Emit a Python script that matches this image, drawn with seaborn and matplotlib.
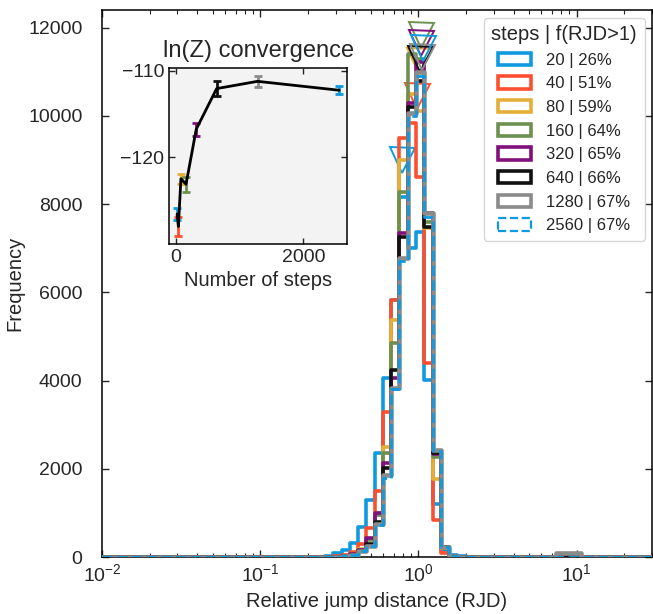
import numpy as np
import pandas as pd
import matplotlib
matplotlib.use("Agg")
import matplotlib.pyplot as plt
from matplotlib.patches import Patch
import seaborn as sns

# ---------------- data ----------------
steps = [20, 40, 80, 160, 320, 640, 1280, 2560]
frac_above = [26, 51, 59, 64, 65, 66, 67, 67]
colors = ["#0f9ae0", "#fc4f30", "#e5ae38", "#6d904f", "#810f7c", "#111111", "#8b8b8b", "#0f9ae0"]
styles = ["-", "-", "-", "-", "-", "-", "-", "--"]

# shared log-spaced bins (log10 RJD from -2 to 1.5)
bin_lo, bin_hi, n_bins = -2.0, 1.5, 67
first_bin = 27  # index of first listed count

counts_20 = [30, 90, 158, 317, 686, 1291, 2355, 4054, 5820, 8160, 7000, 7370, 4010, 1200, 158, 40, 15]
counts_40 = [10, 20, 50, 120, 300, 650, 1500, 3291, 5820, 9500, 9830, 8607, 4394, 850, 90, 20, 5]
counts_80 = [5, 10, 25, 60, 180, 400, 1000, 2498, 5368, 9000, 10500, 10100, 7450, 1760, 200, 20, 5]
counts_160 = [5, 10, 25, 60, 170, 380, 950, 2350, 4847, 8270, 11400, 11300, 7600, 2265, 220, 20, 5]
counts_320 = [5, 10, 25, 60, 160, 420, 1000, 2122, 4050, 7350, 10300, 11210, 7800, 2330, 220, 20, 5]
counts_640 = [5, 10, 20, 50, 140, 300, 800, 2016, 4235, 7250, 10200, 10800, 7470, 2355, 220, 20, 5]
counts_1280 = [5, 10, 20, 50, 130, 250, 750, 1857, 3828, 6770, 10060, 11000, 7790, 2424, 226, 30, 5]
counts_2560 = [5, 10, 20, 50, 130, 250, 720, 1800, 3800, 6700, 10000, 10900, 7700, 2400, 226, 30, 5]
all_counts = [counts_20, counts_40, counts_80, counts_160, counts_320, counts_640, counts_1280, counts_2560]

# small outlier bump near RJD ~ 10 (1280 steps)
bump_bins = [55, 56, 57]
bump_1280 = [90, 100, 80]

# triangle markers: median RJD of each run and marker height
medians = [0.79, 0.987, 1.016, 1.046, 1.046, 1.02, 1.05, 1.075]
marker_y = [8990, 10460, 11240, 11840, 11660, 11300, 11325, 11530]

# ln(Z) convergence inset
lnz_mean = [-126.56, -128.0, -122.47, -123.12, -116.75, -112.06, -111.22, -112.25]
lnz_err = [0.67, 1.1, 0.57, 0.86, 0.76, 0.9, 0.65, 0.44]

# ---------------- style ----------------
sns.set_style("ticks")
plt.rcParams["font.family"] = ["Liberation Sans", "DejaVu Sans"]
plt.rcParams["mathtext.fontset"] = "custom"
plt.rcParams["mathtext.rm"] = "Liberation Sans"
plt.rcParams["mathtext.it"] = "Liberation Sans:italic"
plt.rcParams["mathtext.bf"] = "Liberation Sans:bold"
plt.rcParams["axes.linewidth"] = 1.1
plt.rcParams["axes.edgecolor"] = "black"
FS = 14.5
TFS = 14

fig = plt.figure(figsize=(6.53, 6.14), dpi=100)
ax = fig.add_axes([102 / 653, 1 - 557 / 614, 550 / 653, 547 / 614])

edges = np.logspace(bin_lo, bin_hi, n_bins + 1)
centers = np.sqrt(edges[:-1] * edges[1:])

for i, (c, col, ls) in enumerate(zip(all_counts, colors, styles)):
    w = np.zeros(n_bins)
    w[first_bin:first_bin + len(c)] = c
    if steps[i] == 1280:
        w[bump_bins] = bump_1280
    df = pd.DataFrame({"rjd": centers, "n": w})
    lw = 2.0 if ls == "--" else (3.3 if steps[i] == 1280 else 2.6)
    sns.histplot(data=df, x="rjd", weights="n", bins=edges.tolist(), element="step", fill=False,
                 color=col, linewidth=lw, linestyle=ls, ax=ax, zorder=2 + i)

for i, col in enumerate(colors):
    ax.plot([medians[i]], [marker_y[i]], marker="v", ms=18, mfc="none",
            mec=col, mew=1.4, ls="none", zorder=2 + i)

ax.set_xscale("log")
ax.set_xlim(0.01, 30)
ax.set_ylim(0, 12400)
ax.set_yticks(np.arange(0, 12001, 2000))
ax.set_xlabel("Relative jump distance (RJD)", fontsize=FS, labelpad=5)
ax.set_ylabel("Frequency", fontsize=FS, labelpad=3)
ax.tick_params(which="both", direction="in", top=True, right=True, labelsize=TFS)
ax.tick_params(which="major", length=5, width=1)
ax.tick_params(which="minor", length=2.8, width=0.8)
ax.tick_params(axis="y", which="major", pad=14)
ax.tick_params(axis="x", which="major", pad=4.5)

handles = [Patch(facecolor="white", edgecolor=col, linewidth=2.6 if ls == "-" else 1.6, linestyle=ls)
           for col, ls in zip(colors, styles)]
labels = [f"{s} | {f}%" for s, f in zip(steps, frac_above)]
leg = ax.legend(handles, labels, title="steps | f(RJD>1)", loc="upper right",
                fontsize=12, title_fontsize=FS, frameon=True, fancybox=True,
                handlelength=2.0, handleheight=0.75, borderpad=0.45, labelspacing=0.52,
                handletextpad=0.9, bbox_to_anchor=(1.0, 1.0), borderaxespad=0.45)
leg.get_frame().set_edgecolor("#cccccc")
leg.get_frame().set_linewidth(1.0)
leg.set_zorder(20)

# ---------------- inset ----------------
axins = fig.add_axes([169 / 653, 1 - 244 / 614, 178.3 / 653, 176.3 / 614])
axins.set_facecolor("#f3f3f3")
sns.lineplot(x=steps, y=lnz_mean, color="black", linewidth=2, ax=axins, zorder=3)
for s, m, e, col in zip(steps, lnz_mean, lnz_err, colors):
    axins.errorbar(s, m, yerr=e, fmt="none", ecolor=col, elinewidth=2,
                   capsize=3, capthick=2, zorder=2)
axins.set_xticks([0, 2000])
axins.set_yticks([-120, -110])
axins.set_title("ln(Z) convergence", fontsize=17, pad=8)
axins.set_xlabel("Number of steps", fontsize=FS)
axins.tick_params(which="both", direction="in", top=True, right=True, labelsize=TFS,
                  length=4, width=1)

fig.savefig("out.png", dpi=100)
